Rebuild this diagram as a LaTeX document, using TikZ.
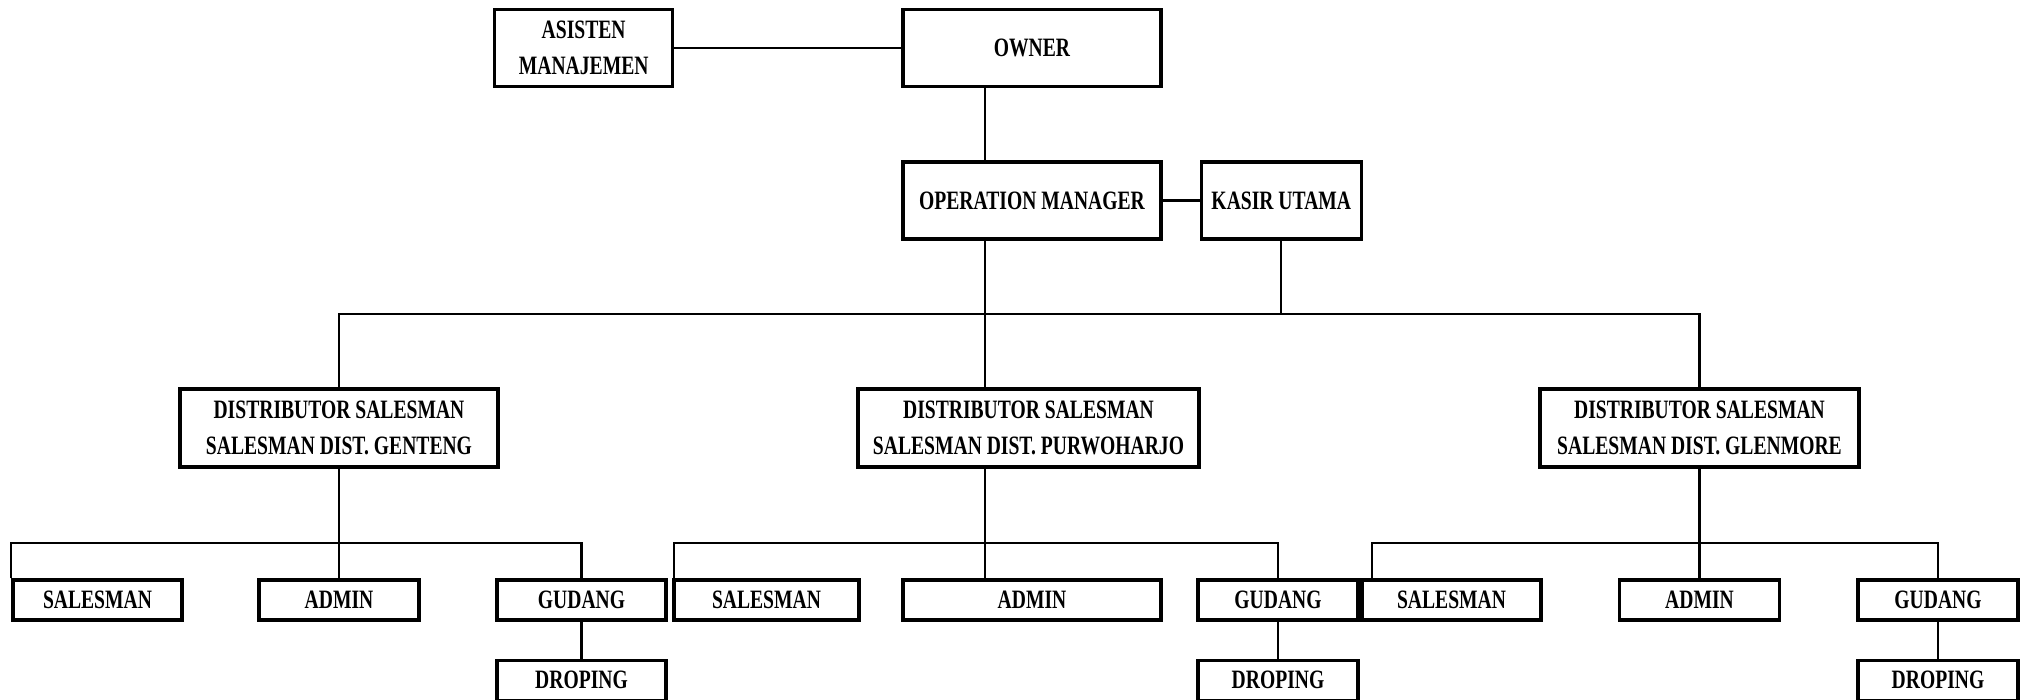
\documentclass[tikz,border=0pt]{standalone}
\usepackage{fontspec}
\setmainfont{Liberation Serif}[FakeStretch=0.74]
\usepackage{tikz}
\usetikzlibrary{
    positioning,
    calc
}
\tikzset{
  unitbox/.style = {
      draw,
      rectangle,
      line width=3.3pt,
      fill=white,
      inner sep=0pt,
      align=center,
      font=\bfseries\fontsize{26.5}{36}\selectfont
  },
  headbox/.style = {
      unitbox,
      minimum width=258pt,
      minimum height=77pt
  },
  distbox/.style = {
      unitbox,
      minimum height=78pt
  },
  staffbox/.style = {
      unitbox,
      minimum width=160pt,
      minimum height=40pt
  },
  link/.style = {
      draw,
      line width=2.1pt
  }
}

\begin{document}
\begin{tikzpicture}[x=1pt, y=-1pt]
    \useasboundingbox (0,0) rectangle (2022,699);
    % Nodes
    \node[headbox] (owner) at (1032,48) {OWNER};
    \node[unitbox, minimum width=178pt, minimum height=77pt, left=227pt of owner] (asisten) {ASISTEN\\MANAJEMEN};
    \node[headbox] (opmgr) at (1032,200.5) {OPERATION MANAGER};
    \node[headbox, minimum width=160pt, right=37pt of opmgr] (kasir) {KASIR UTAMA};
    \node[distbox, minimum width=318pt] (distG) at (339,428) {DISTRIBUTOR SALESMAN\\SALESMAN DIST. GENTENG};
    \node[distbox, minimum width=341pt] (distP) at (1028.5,428) {DISTRIBUTOR SALESMAN\\SALESMAN DIST. PURWOHARJO};
    \node[distbox, minimum width=319pt] (distL) at (1699.5,428) {DISTRIBUTOR SALESMAN\\SALESMAN DIST. GLENMORE};
    \node[staffbox, minimum width=169pt] (salesG) at (97.5,600) {SALESMAN};
    \node[staffbox] (adminG) at (339,600) {ADMIN};
    \node[staffbox, minimum width=169pt] (gudangG) at (581.5,600) {GUDANG};
    \node[staffbox, minimum width=185pt] (salesP) at (766.5,600) {SALESMAN};
    \node[staffbox, minimum width=258pt] (adminP) at (1032,600) {ADMIN};
    \node[staffbox] (gudangP) at (1278,600) {GUDANG};
    \node[staffbox, minimum width=179pt] (salesL) at (1451.5,600) {SALESMAN};
    \node[staffbox] (adminL) at (1699.5,600) {ADMIN};
    \node[staffbox] (gudangL) at (1938,600) {GUDANG};
    \node[staffbox, minimum width=169pt, below=37pt of gudangG] (dropG) {DROPING};
    \node[staffbox, below=37pt of gudangP] (dropP) {DROPING};
    \node[staffbox, below=37pt of gudangL] (dropL) {DROPING};
    % Bus lines
    \coordinate (spine) at (985,0);
    \coordinate (bus) at (0,314);
    \coordinate (subbus) at (0,543);
    % Edges
    \path[link]
    (asisten) edge (owner)
    (opmgr) edge (kasir)
    (owner.south -| spine) edge (opmgr.north -| spine)
    (opmgr.south -| spine) edge (distP.north -| spine)
    (kasir.south) edge (kasir.south |- bus)
    (distG) edge (adminG)
    (distP.south -| spine) edge (adminP.north -| spine)
    (distL) edge (adminL)
    (gudangG) edge (dropG)
    (gudangP) edge (dropP)
    (gudangL) edge (dropL);
    \draw[link] (distG.north) |- (distL.north |- bus) -- (distL.north);
    \draw[link] (salesG.north west) |- (gudangG.north |- subbus) -- (gudangG.north);
    \draw[link] ([xshift=2pt]salesP.north west) |- (gudangP.north |- subbus) -- (gudangP.north);
    \draw[link] ([xshift=12pt]salesL.north west) |- (gudangL.north |- subbus) -- (gudangL.north);
\end{tikzpicture}
\end{document}
